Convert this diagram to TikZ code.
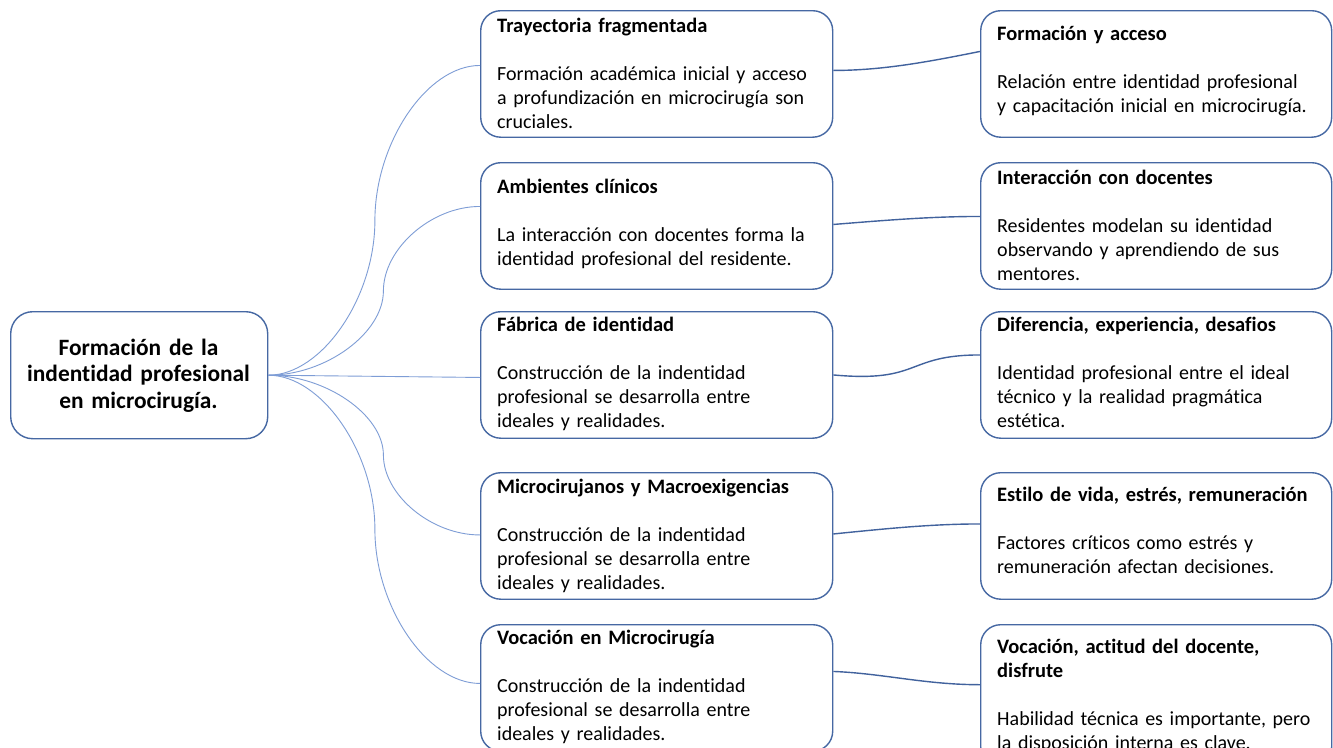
\documentclass[tikz,border=0pt]{standalone}
\usepackage{fontspec}
\setmainfont{Carlito}[Ligatures=NoCommon]
\definecolor{boxblue}{HTML}{4668A3}
\definecolor{linkblue}{HTML}{7E9DD6}
\definecolor{darklink}{HTML}{41629D}
\newcommand{\ttl}[1]{{\fontsize{20.5}{24}\selectfont\bfseries #1}}
\begin{document}
\begin{tikzpicture}[x=1pt,y=-1pt,
  box/.style={draw=boxblue,line width=1.4pt,rounded corners=20pt,minimum height=126.5pt,inner sep=0pt,anchor=north west},
  midbox/.style={box,minimum width=352pt},
  rightbox/.style={box,minimum width=351pt},
  centrebox/.style={box,minimum width=257pt,minimum height=127pt,rounded corners=22pt},
  txt/.style={anchor=base west,inner sep=0pt,text width=330pt,align=left,font=\fontsize{20}{24}\selectfont},
  centretxt/.style={anchor=base,inner sep=0pt,text width=250pt,align=center,font=\fontsize{23.4}{26.5}\selectfont\bfseries},
  thinlink/.style={draw=linkblue,line width=0.9pt},
  thicklink/.style={draw=darklink,line width=1.4pt}]
\clip (0,0) rectangle (1333,747);
\fill[white] (0,0) rectangle (1333,747);

% boxes
\node[centrebox] (c0) at (10,311) {};
\node[midbox] (c2a) at (480,10) {};
\node[midbox] (c2b) at (480,162) {};
\node[midbox] (c2c) at (480,311) {};
\node[midbox] (c2d) at (480,472) {};
\node[midbox] (c2e) at (480,624) {};
\node[rightbox] (c3a) at (980,10) {};
\node[rightbox] (c3b) at (980,162) {};
\node[rightbox] (c3c) at (980,311) {};
\node[rightbox] (c3d) at (980,472) {};
\node[rightbox,minimum height=142pt] (c3e) at (980,624) {};

% texts
\node[centretxt] (t0) at (138.5,355) {Formación de la\\ indentidad profesional\\ en microcirugía.};

\node[txt] (t2a) at (497,32) {\ttl{Trayectoria fragmentada}\\[24.5pt]Formación académica inicial y acceso\\ a profundización en microcirugía son\\ cruciales.};
\node[txt] (t2b) at (497,193) {\ttl{Ambientes clínicos}\\[24.5pt]La interacción con docentes forma la\\ identidad profesional del residente.};
\node[txt] (t2c) at (497,331) {\ttl{Fábrica de identidad}\\[24.5pt]Construcción de la indentidad\\ profesional se desarrolla entre\\ ideales y realidades.};
\node[txt] (t2d) at (497,493) {\ttl{Microcirujanos y Macroexigencias}\\[24.5pt]Construcción de la indentidad\\ profesional se desarrolla entre\\ ideales y realidades.};
\node[txt] (t2e) at (497,644) {\ttl{Vocación en Microcirugía}\\[24.5pt]Construcción de la indentidad\\ profesional se desarrolla entre\\ ideales y realidades.};

\node[txt] (t3a) at (997,40) {\ttl{Formación y acceso}\\[24.5pt]Relación entre identidad profesional\\ y capacitación inicial en microcirugía.};
\node[txt] (t3b) at (997,184) {\ttl{Interacción con docentes}\\[24pt]Residentes modelan su identidad\\ observando y aprendiendo de sus\\ mentores.};
\node[txt] (t3c) at (997,331) {\ttl{Diferencia, experiencia, desafios}\\[24.5pt]Identidad profesional entre el ideal\\ técnico y la realidad pragmática\\ estética.};
\node[txt] (t3d) at (997,501) {\ttl{Estilo de vida, estrés, remuneración}\\[24pt]Factores críticos como estrés y\\ remuneración afectan decisiones.};
\node[txt] (t3e) at (997,653) {\ttl{Vocación, actitud del docente,}\\ \ttl{disfrute}\\[24.5pt]Habilidad técnica es importante, pero\\ la disposición interna es clave.};

% connectors from the centre
\draw[thinlink] (c0.east) .. controls +(53.25,0) and +(0,77.4) .. ++(106.5,-154.75)
  .. controls +(0,-77.4) and +(-53.25,0) .. ([yshift=8.5pt]c2a.west);
\draw[thinlink] (c0.east) .. controls +(57.5,0) and +(0,42.1) .. ++(115,-84.25)
  .. controls +(0,-42.1) and +(-49,0) .. ([yshift=19.5pt]c2b.west);
\draw[thinlink] (c0.east) -- ([yshift=-2.5pt]c2c.west);
\draw[thinlink] (c0.east) .. controls +(57.5,0) and +(0,-39.9) .. ++(115,79.75)
  .. controls +(0,39.9) and +(-49,0) .. ([yshift=1pt]c2d.west);
\draw[thinlink] (c0.east) .. controls +(53.25,0) and +(0,-77.1) .. ++(106.5,154.25)
  .. controls +(0,77.1) and +(-53.25,0) .. ([yshift=4.5pt]c2e.west);

% connectors to the right column
\draw[thicklink] ([yshift=3.5pt]c2a.east) .. controls +(50,0) and +(-50,10) .. ([yshift=22.5pt]c3a.west);
\draw[thicklink] ([yshift=1.5pt]c2b.east) .. controls +(50,-4) and +(-50,0) .. ([yshift=9.5pt]c3b.west);
\draw[thicklink] (c2c.east) .. controls +(88,8) and +(-75,0) .. ([yshift=20pt]c3c.west);
\draw[thicklink] ([yshift=2pt]c2d.east) .. controls +(50,-5) and +(-50,0) .. ([yshift=12pt]c3d.west);
\draw[thicklink] ([yshift=16.5pt]c2e.east) .. controls +(50,2) and +(-55,0) .. ([yshift=11pt]c3e.west);
\end{tikzpicture}
\end{document}
